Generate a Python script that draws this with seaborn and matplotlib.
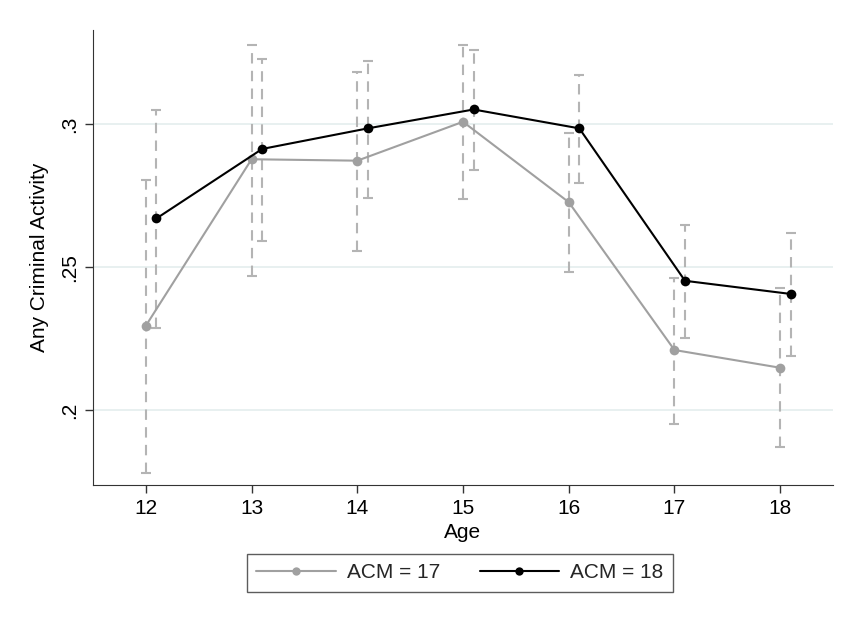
import numpy as np
import pandas as pd
import matplotlib
matplotlib.use("Agg")
import matplotlib.pyplot as plt
import seaborn as sns

# Values
ages = [12, 13, 14, 15, 16, 17, 18]
acm17_mean = [0.2295, 0.2877, 0.2872, 0.3008, 0.2727, 0.2210, 0.2148]
acm17_low = [0.1780, 0.2470, 0.2557, 0.2737, 0.2483, 0.1951, 0.1872]
acm17_high = [0.2804, 0.3276, 0.3181, 0.3276, 0.2970, 0.2463, 0.2428]
acm18_mean = [0.2670, 0.2913, 0.2985, 0.3051, 0.2985, 0.2452, 0.2406]
acm18_low = [0.2286, 0.2592, 0.2740, 0.2839, 0.2795, 0.2253, 0.2190]
acm18_high = [0.3048, 0.3227, 0.3220, 0.3259, 0.3171, 0.2647, 0.2620]
group_labels = ["ACM = 17", "ACM = 18"]
ytick_vals = [0.2, 0.25, 0.3]
ytick_labels = [".2", ".25", ".3"]

sns.set_style("ticks")
plt.rcParams["font.family"] = ["Liberation Sans", "DejaVu Sans"]
fs = 15

df = pd.DataFrame({
    "age": ages * 2,
    "x": [a for a in ages] + [a + 0.1 for a in ages],
    "mean": acm17_mean + acm18_mean,
    "low": acm17_low + acm18_low,
    "high": acm17_high + acm18_high,
    "group": [group_labels[0]] * len(ages) + [group_labels[1]] * len(ages),
})

fig = plt.figure(figsize=(8.41, 6.18), dpi=100)
ax = fig.add_axes([0.1106, 0.2152, 0.8799, 0.7363])

# horizontal gridlines
for v in ytick_vals:
    ax.axhline(v, color="#e4eeee", lw=1.2, zorder=0)

# dashed confidence intervals
for g, sub in df.groupby("group"):
    err = [sub["mean"] - sub["low"], sub["high"] - sub["mean"]]
    eb = ax.errorbar(sub["x"], sub["mean"], yerr=err, fmt="none",
                     ecolor="#b4b4b4", elinewidth=1.5, capsize=3.5,
                     capthick=1.5, zorder=1)
    for lc in eb[2]:
        lc.set_linestyle((0, (5, 3.5)))

palette = {group_labels[0]: "#a0a0a0", group_labels[1]: "#000000"}
sns.lineplot(data=df, x="x", y="mean", hue="group", palette=palette,
             style="group", markers=["o", "o"], dashes=False,
             markersize=7, markeredgewidth=0, linewidth=1.5,
             ax=ax, zorder=3)

ax.set_xlim(11.5, 18.5)
ax.set_ylim(0.1738, 0.3329)
ax.set_xticks(ages)
ax.set_xticklabels([str(a) for a in ages], fontsize=fs)
ax.set_yticks(ytick_vals)
ax.set_yticklabels(ytick_labels, fontsize=fs, rotation=90, va="center")
ax.tick_params(length=6, width=1, color="#333333", pad=4, labelcolor="black")
ax.set_xlabel("Age", fontsize=fs, labelpad=4, color="black")
ax.set_ylabel("Any Criminal Activity", fontsize=fs, labelpad=8, color="black")
sns.despine(ax=ax)
for s in ["left", "bottom"]:
    ax.spines[s].set_color("#333333")

sns.move_legend(ax, "center", bbox_to_anchor=(0.547, 0.073),
                bbox_transform=fig.transFigure, ncol=2, title=None,
                frameon=True, fancybox=False, fontsize=fs,
                handlelength=3.8, columnspacing=1.9, borderpad=0.45,
                handletextpad=0.55, edgecolor="#333333")
leg = ax.get_legend()
leg.get_frame().set_linewidth(1.0)
for h in leg.legend_handles:
    h.set_markersize(6)

fig.savefig("out.png", dpi=100)
